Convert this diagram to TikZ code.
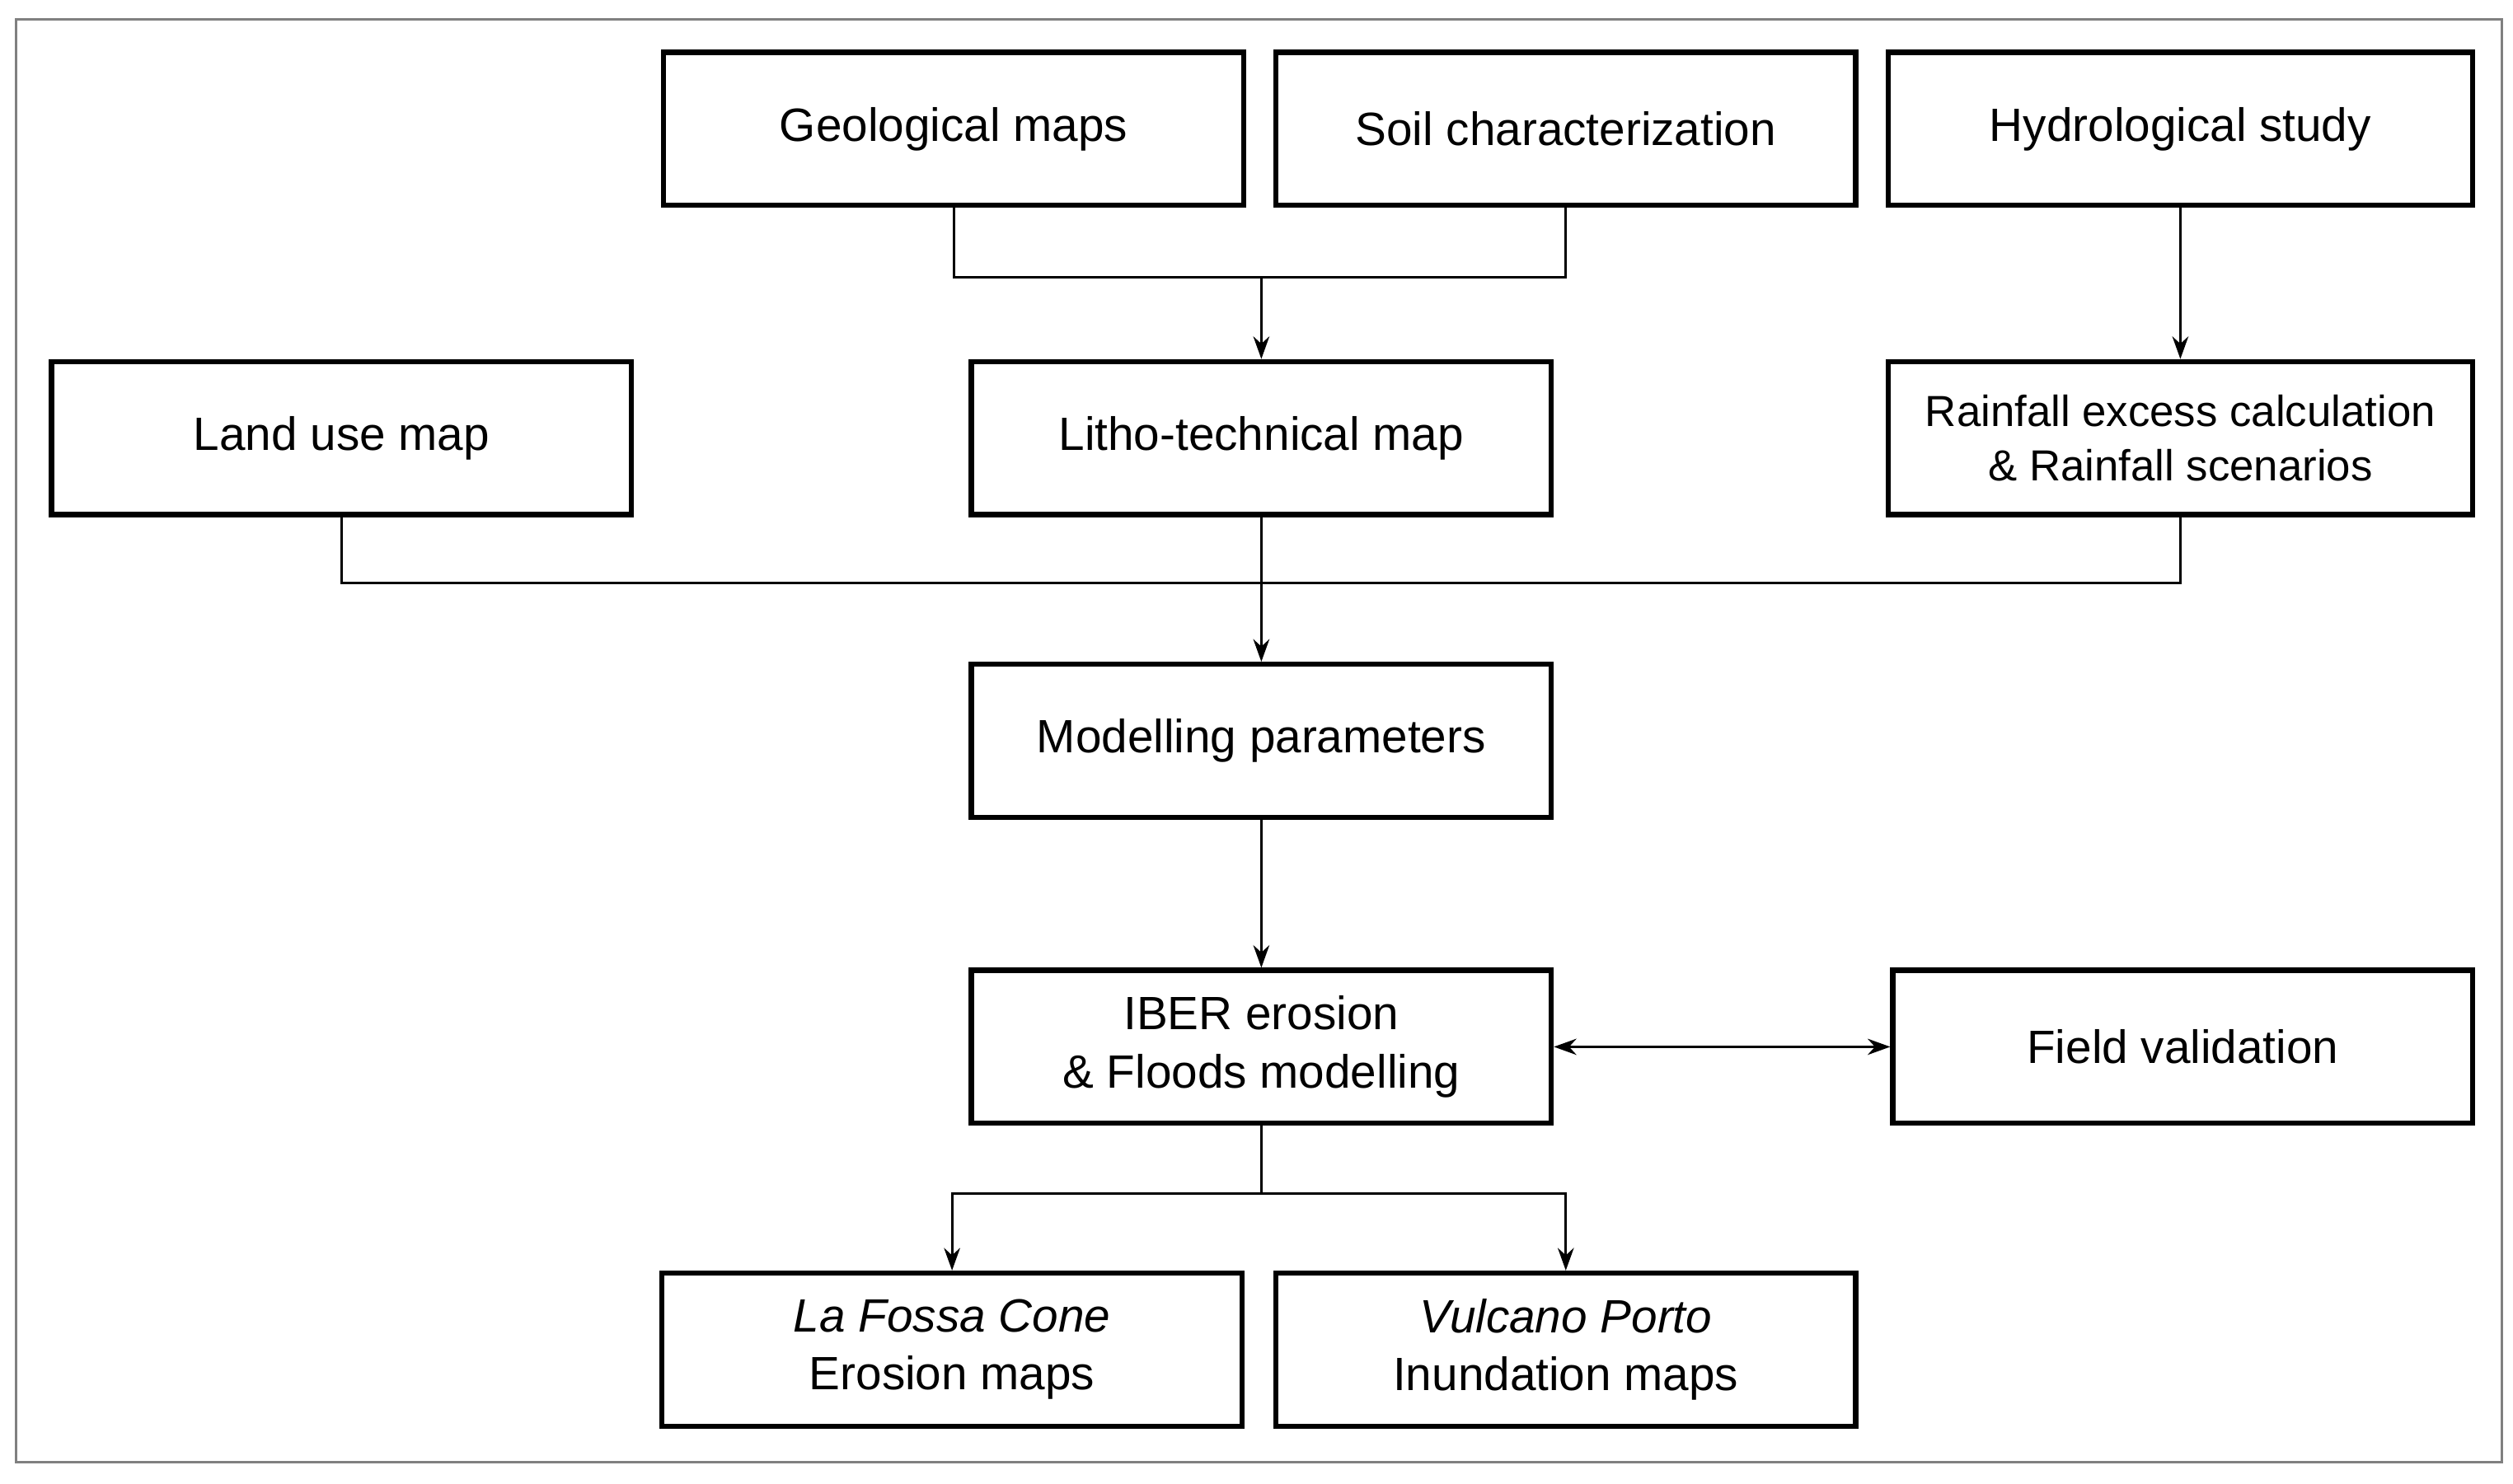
\documentclass[tikz,border=0pt]{standalone}
\usepackage{fontspec}
\setmainfont{Liberation Sans}
\usetikzlibrary{arrows.meta}
\begin{document}
\begin{tikzpicture}[x=0.5pt,y=-0.5pt,
 box/.style={draw,line width=1.6pt,minimum width=180pt,minimum height=47.5pt,align=center,inner sep=0pt,font=\fontsize{14.5}{18}\selectfont},
 ln/.style={line width=0.8pt},
 ar/.style={ln,-{Stealth[length=7pt,width=5pt]}}]
\useasboundingbox (0,0) rectangle (1560,921);
\draw[gray,line width=0.8pt] (10,12) rectangle (1553,908);
\node[box] (geo) at (592,80) {Geological maps};
\node[box] (soil) at (972,80) {Soil characterization};
\node[box,minimum width=181.5pt] (hyd) at (1353.5,80) {Hydrological study};
\node[box] (land) at (212,272) {Land use map};
\node[box] (lith) at (783,272) {Litho-technical map};
\node[box,minimum width=181.5pt,font=\fontsize{13.5}{17}\selectfont] (rain) at (1353.5,272) {Rainfall excess calculation\\\& Rainfall scenarios};
\node[box] (mod) at (783,460) {Modelling parameters};
\node[box] (iber) at (783,650) {IBER erosion\\\& Floods modelling};
\node[box] (field) at (1355,650) {Field validation};
\node[box] (fossa) at (591,838) {\textit{La Fossa Cone}\\Erosion maps};
\node[box] (vulc) at (972,838) {\textit{Vulcano Porto}\\Inundation maps};
\coordinate (j1) at (783,172);
\coordinate (j2) at (783,362);
\coordinate (j3) at (783,741);
\draw[ln] (geo.south) |- (j1) -| (soil.south);
\draw[ar] (j1) -- (lith.north);
\draw[ar] (hyd.south) -- (rain.north);
\draw[ln] (land.south) |- (j2) -| (rain.south);
\draw[ar] (lith.south) -- (mod.north);
\draw[ar] (mod.south) -- (iber.north);
\draw[ar,{Stealth[length=7pt,width=5pt]}-{Stealth[length=7pt,width=5pt]}] (iber.east) -- (field.west);
\draw[ln] (iber.south) -- (j3);
\draw[ar] (j3) -| (fossa.north);
\draw[ar] (j3) -| (vulc.north);
\end{tikzpicture}
\end{document}
